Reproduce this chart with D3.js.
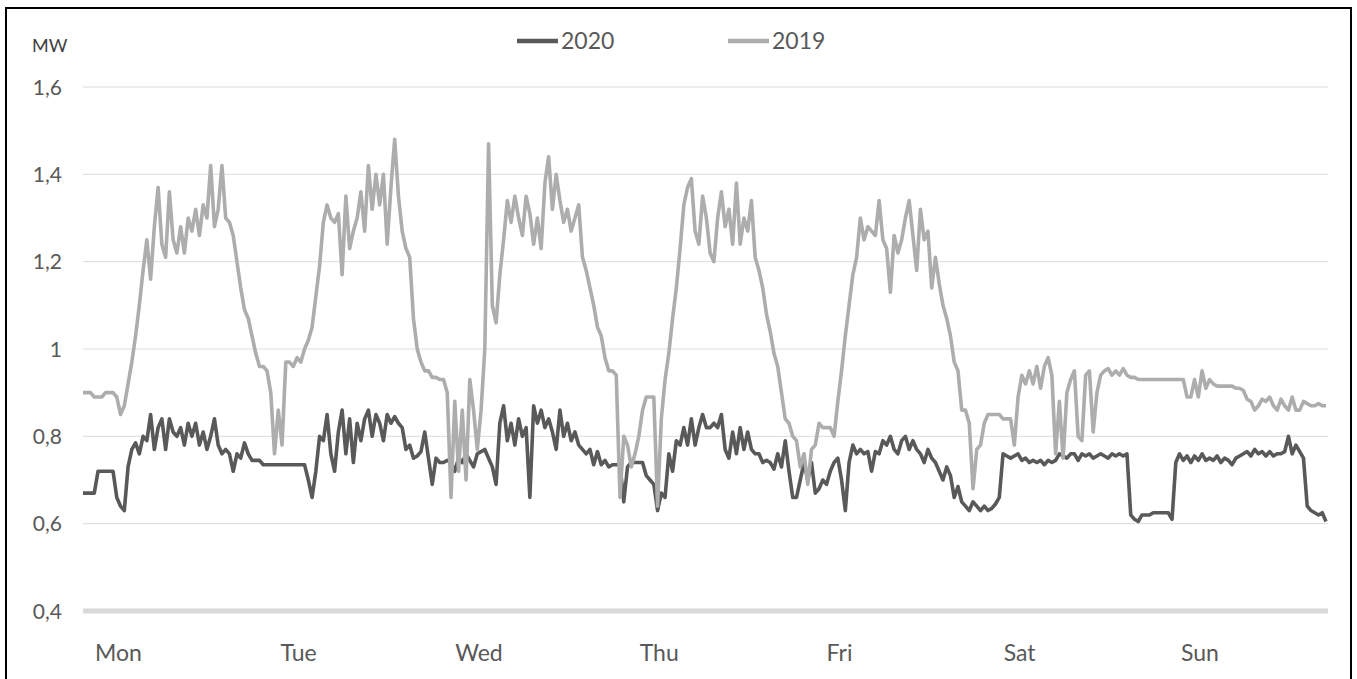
<!DOCTYPE html>
<html>
<head>
<meta charset="utf-8">
<script src="https://cdn.jsdelivr.net/npm/d3@7"></script>
<style>
  html, body { margin: 0; padding: 0; background: #fff; }
  svg { display: block; }
  text { font-family: Lato, "Open Sans", sans-serif; }
</style>
</head>
<body>
<svg id="chart" width="1357" height="679"></svg>
<script>
// Weekly electricity demand (MW), half-hourly samples, Monday 00:00 onward
const days = ["Mon", "Tue", "Wed", "Thu", "Fri", "Sat", "Sun"];
const seriesNames = ["2020", "2019"];
const yTicks = [0.4, 0.6, 0.8, 1.0, 1.2, 1.4, 1.6];
const yTickLabels = ["0,4", "0,6", "0,8", "1", "1,2", "1,4", "1,6"];

const load2020 = [
  // Mon
  0.67,0.67,0.67,0.67,0.72,0.72,0.72,0.72,0.72,0.66,0.64,0.63,0.73,0.77,0.785,0.76,
  0.80,0.79,0.85,0.77,0.82,0.84,0.77,0.84,0.81,0.80,0.82,0.78,0.83,0.80,0.83,0.78,
  0.81,0.77,0.80,0.84,0.78,0.76,0.77,0.76,0.72,0.76,0.75,0.785,0.76,0.745,0.745,0.745,
  // Tue
  0.735,0.735,0.735,0.735,0.735,0.735,0.735,0.735,0.735,0.735,0.735,0.735,0.70,0.66,0.72,0.80,
  0.79,0.85,0.76,0.72,0.81,0.86,0.76,0.84,0.74,0.83,0.79,0.84,0.86,0.80,0.85,0.83,
  0.79,0.85,0.83,0.845,0.83,0.82,0.77,0.78,0.75,0.755,0.765,0.81,0.75,0.69,0.75,0.74,
  // Wed
  0.74,0.745,0.74,0.72,0.75,0.74,0.76,0.745,0.73,0.76,0.765,0.77,0.75,0.73,0.69,0.83,
  0.87,0.79,0.83,0.78,0.84,0.80,0.82,0.66,0.87,0.83,0.86,0.82,0.84,0.81,0.77,0.86,
  0.80,0.83,0.79,0.81,0.78,0.77,0.76,0.77,0.735,0.765,0.735,0.745,0.73,0.735,0.735,0.735,
  // Thu
  0.65,0.73,0.74,0.74,0.74,0.74,0.71,0.70,0.69,0.63,0.67,0.66,0.76,0.72,0.79,0.78,
  0.82,0.78,0.84,0.78,0.82,0.85,0.82,0.82,0.83,0.82,0.85,0.77,0.75,0.81,0.76,0.82,
  0.77,0.81,0.77,0.76,0.76,0.74,0.745,0.74,0.725,0.76,0.73,0.79,0.72,0.66,0.66,0.70,
  // Fri
  0.74,0.70,0.74,0.67,0.68,0.70,0.69,0.72,0.74,0.75,0.70,0.63,0.74,0.78,0.76,0.77,
  0.76,0.765,0.72,0.765,0.76,0.79,0.78,0.80,0.77,0.76,0.79,0.80,0.77,0.79,0.77,0.76,
  0.74,0.77,0.75,0.74,0.72,0.70,0.73,0.71,0.66,0.685,0.65,0.64,0.63,0.65,0.64,0.63,
  // Sat
  0.64,0.63,0.635,0.645,0.66,0.76,0.755,0.75,0.755,0.76,0.745,0.75,0.74,0.745,0.74,0.745,
  0.735,0.745,0.74,0.745,0.76,0.755,0.75,0.76,0.76,0.745,0.76,0.755,0.76,0.75,0.755,0.76,
  0.755,0.75,0.76,0.755,0.76,0.755,0.76,0.62,0.61,0.605,0.62,0.62,0.62,0.625,0.625,0.625,
  // Sun
  0.625,0.625,0.61,0.74,0.76,0.745,0.755,0.74,0.755,0.745,0.76,0.745,0.75,0.745,0.755,0.74,
  0.75,0.745,0.735,0.75,0.755,0.76,0.765,0.755,0.77,0.76,0.765,0.755,0.765,0.755,0.76,0.76,
  0.765,0.80,0.76,0.78,0.765,0.75,0.64,0.63,0.625,0.62,0.625,0.605
];

const load2019 = [
  // Mon
  0.90,0.90,0.90,0.89,0.89,0.89,0.90,0.90,0.90,0.89,0.85,0.87,0.92,0.97,1.03,1.10,
  1.18,1.25,1.16,1.28,1.37,1.24,1.21,1.36,1.25,1.22,1.28,1.22,1.30,1.27,1.32,1.26,
  1.33,1.30,1.42,1.28,1.32,1.42,1.30,1.29,1.26,1.20,1.14,1.09,1.07,1.03,0.99,0.96,
  // Tue
  0.96,0.95,0.90,0.76,0.86,0.78,0.97,0.97,0.96,0.98,0.97,1.00,1.02,1.05,1.12,1.19,
  1.29,1.33,1.30,1.29,1.31,1.17,1.35,1.23,1.27,1.30,1.36,1.27,1.42,1.32,1.40,1.33,
  1.40,1.24,1.37,1.48,1.35,1.27,1.23,1.21,1.07,1.00,0.97,0.95,0.95,0.935,0.935,0.93,
  // Wed
  0.93,0.90,0.66,0.88,0.72,0.86,0.70,0.93,0.86,0.77,0.86,1.00,1.47,1.10,1.06,1.17,
  1.25,1.34,1.29,1.35,1.30,1.26,1.35,1.31,1.24,1.30,1.23,1.38,1.44,1.32,1.40,1.34,
  1.29,1.32,1.27,1.30,1.33,1.21,1.18,1.14,1.10,1.05,1.03,0.98,0.95,0.95,0.94,0.66,
  // Thu
  0.80,0.78,0.73,0.76,0.80,0.86,0.89,0.89,0.89,0.64,0.84,0.93,0.99,1.07,1.14,1.23,
  1.33,1.37,1.39,1.27,1.24,1.35,1.30,1.22,1.20,1.30,1.36,1.28,1.32,1.24,1.38,1.24,
  1.30,1.27,1.34,1.21,1.18,1.14,1.08,1.04,0.99,0.96,0.90,0.84,0.83,0.80,0.79,0.73,
  // Fri
  0.76,0.69,0.77,0.78,0.83,0.82,0.82,0.82,0.80,0.88,0.95,1.03,1.10,1.17,1.21,1.30,
  1.25,1.28,1.27,1.26,1.34,1.25,1.23,1.13,1.26,1.22,1.25,1.30,1.34,1.26,1.18,1.32,
  1.25,1.27,1.14,1.21,1.15,1.10,1.07,1.03,0.97,0.95,0.86,0.86,0.83,0.68,0.77,0.78,
  // Sat
  0.83,0.85,0.85,0.85,0.85,0.84,0.84,0.84,0.78,0.89,0.94,0.92,0.95,0.92,0.96,0.91,
  0.96,0.98,0.94,0.76,0.88,0.75,0.90,0.93,0.95,0.80,0.79,0.94,0.95,0.81,0.90,0.94,
  0.95,0.955,0.94,0.95,0.94,0.955,0.94,0.935,0.935,0.93,0.93,0.93,0.93,0.93,0.93,0.93,
  // Sun
  0.93,0.93,0.93,0.93,0.93,0.93,0.89,0.89,0.93,0.89,0.95,0.91,0.93,0.92,0.915,0.915,
  0.915,0.915,0.915,0.91,0.91,0.905,0.885,0.88,0.86,0.87,0.885,0.88,0.89,0.87,0.86,0.885,
  0.87,0.86,0.89,0.86,0.86,0.88,0.875,0.87,0.87,0.875,0.87,0.87
];

const colors = { "2020": "#595959", "2019": "#adadad" };
const stepsPerDay = 48;
const labelOffset = 9.3; // day labels sit a few hours into each day

const svg = d3.select("#chart");

// outer frame
svg.append("rect")
  .attr("x", 6).attr("y", 8)
  .attr("width", 1345).attr("height", 690)
  .attr("fill", "none").attr("stroke", "#000").attr("stroke-width", 2);

const plot = { left: 83, right: 1328, top: 87, bottom: 611 };
const n = load2019.length;

const x = d3.scaleLinear().domain([0, n - 1]).range([plot.left, 1326]);
const y = d3.scaleLinear().domain([0.4, 1.6]).range([plot.bottom, plot.top]);

// gridlines
svg.append("g").selectAll("line")
  .data(yTicks.filter(v => v > 0.4))
  .join("line")
  .attr("x1", plot.left).attr("x2", plot.right)
  .attr("y1", d => y(d)).attr("y2", d => y(d))
  .attr("stroke", "#dcdcdc").attr("stroke-width", 1);

// horizontal axis line
svg.append("line")
  .attr("x1", plot.left).attr("x2", plot.right)
  .attr("y1", y(0.4)).attr("y2", y(0.4))
  .attr("stroke", "#d9d9d9").attr("stroke-width", 5);

// y axis labels
const yAxis = d3.axisLeft(y)
  .tickValues(yTicks)
  .tickSize(0)
  .tickPadding(0)
  .tickFormat((d, i) => yTickLabels[i]);
const gy = svg.append("g").attr("transform", "translate(62,0)").call(yAxis);
gy.select(".domain").remove();
gy.selectAll("text")
  .attr("font-family", "Lato, sans-serif")
  .attr("font-size", 21)
  .attr("fill", "#595959")
  .attr("dy", "0.34em");

svg.append("text")
  .attr("x", 32).attr("y", 52)
  .attr("font-size", 18)
  .attr("fill", "#404040")
  .text("MW");

// day labels
const xAxis = d3.axisBottom(x)
  .tickValues(days.map((d, i) => i * stepsPerDay + labelOffset))
  .tickSize(0)
  .tickPadding(0)
  .tickFormat((d, i) => days[i]);
const gx = svg.append("g").attr("transform", "translate(0,645)").call(xAxis);
gx.select(".domain").remove();
gx.selectAll("text")
  .attr("font-family", "Lato, sans-serif")
  .attr("font-size", 23)
  .attr("fill", "#595959")
  .attr("dy", "0.71em");

// series lines (2019 drawn last, on top)
const line = d3.line()
  .x((d, i) => x(i))
  .y(d => y(d));

[["2020", load2020], ["2019", load2019]].forEach(([name, values]) => {
  svg.append("path")
    .datum(values)
    .attr("d", line)
    .attr("fill", "none")
    .attr("stroke", colors[name])
    .attr("stroke-width", 3.6)
    .attr("stroke-linejoin", "round");
});

// legend
const legendPos = [517, 728];
const lg = svg.append("g");
seriesNames.forEach((name, i) => {
  lg.append("line")
    .attr("x1", legendPos[i]).attr("x2", legendPos[i] + 41)
    .attr("y1", 41).attr("y2", 41)
    .attr("stroke", colors[name]).attr("stroke-width", 4.5);
  lg.append("text")
    .attr("x", legendPos[i] + 44).attr("y", 49)
    .attr("font-size", 23)
    .attr("fill", "#595959")
    .text(name);
});
</script>
</body>
</html>
